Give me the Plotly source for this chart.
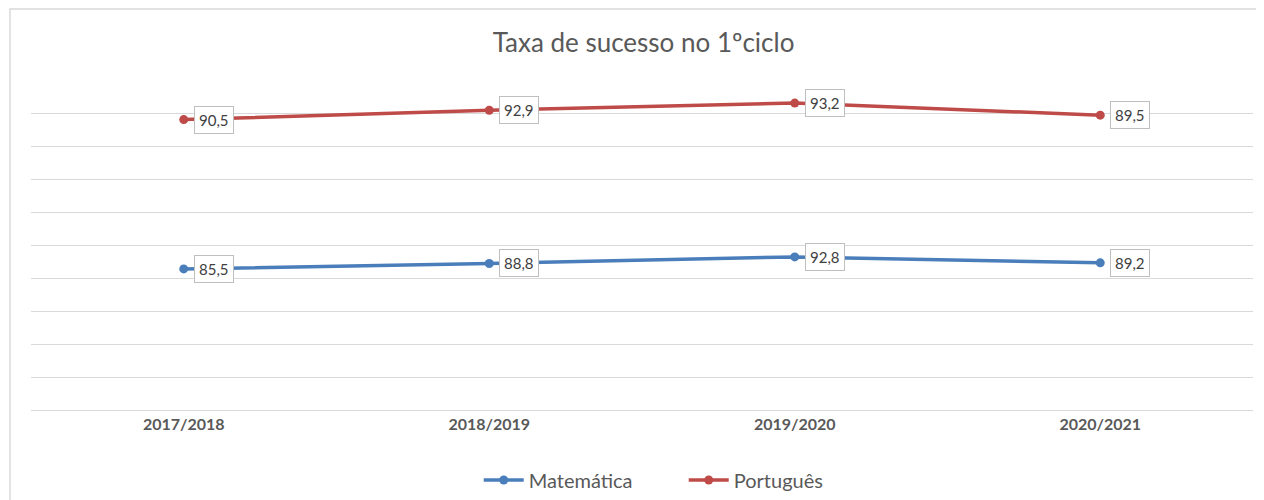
import plotly.graph_objects as go

categories = ["2017/2018", "2018/2019", "2019/2020", "2020/2021"]
matematica = [85.5, 88.8, 92.8, 89.2]
portugues = [90.5, 92.9, 93.2, 89.5]
series_names = ["Matemática", "Português"]
colors = ["#4A7EBB", "#BE4B48"]

FONT = "Lato, Noto Sans, sans-serif"

def fmt(v):
    return f"{v:.1f}".replace(".", ",")

fig = go.Figure()
for name, vals, col in zip(series_names, [matematica, portugues], colors):
    fig.add_trace(go.Scatter(
        x=categories, y=vals, name=name, mode="lines+markers",
        stackgroup="one", fill="none",
        line=dict(color=col, width=3.5),
        marker=dict(color=col, size=9),
        hoverinfo="skip",
    ))

# data labels at stacked positions
cum = [0] * len(categories)
for vals in [matematica, portugues]:
    for i, (c, v) in enumerate(zip(categories, vals)):
        cum[i] += v
        fig.add_annotation(
            x=c, y=cum[i], text=fmt(v), showarrow=False,
            xanchor="left", yanchor="middle", xshift=10,
            bgcolor="white", bordercolor="#BFBFBF", borderwidth=1, borderpad=4,
            font=dict(family=FONT, size=15, color="#404040"),
        )

fig.add_shape(type="rect", xref="paper", yref="paper",
              x0=-0.0172, x1=1.03, y0=-0.4, y1=1.215,
              line=dict(color="#D9D9D9", width=1.5), fillcolor="rgba(0,0,0,0)", layer="below")

fig.update_layout(
    width=1256, height=492,
    margin=dict(l=23, r=11, t=72, b=90, autoexpand=False),
    paper_bgcolor="white", plot_bgcolor="white",
    title=dict(text="Taxa de sucesso no 1ºciclo", x=0.506, xref="container", xanchor="center",
               y=1.0 - 35 / 492, yanchor="middle",
               font=dict(family=FONT, size=26, color="#595959")),
    xaxis=dict(range=[-0.5, 3.5], showgrid=False, showline=True, linecolor="#D9D9D9", linewidth=1,
               ticks="", tickfont=dict(family=FONT, size=16, color="#595959", weight="bold")),
    yaxis=dict(range=[0, 200], dtick=20, showgrid=True, gridcolor="#D9D9D9", gridwidth=1,
               showticklabels=False, zeroline=False, showline=False, fixedrange=True),
    legend=dict(orientation="h", x=0.538, xanchor="center", xref="container",
                y=1.0 - 472 / 492, yanchor="middle", yref="container",
                font=dict(family=FONT, size=20, color="#595959"),
                itemwidth=40, entrywidth=150),
    showlegend=True,
)
fig.write_html("out.html")
